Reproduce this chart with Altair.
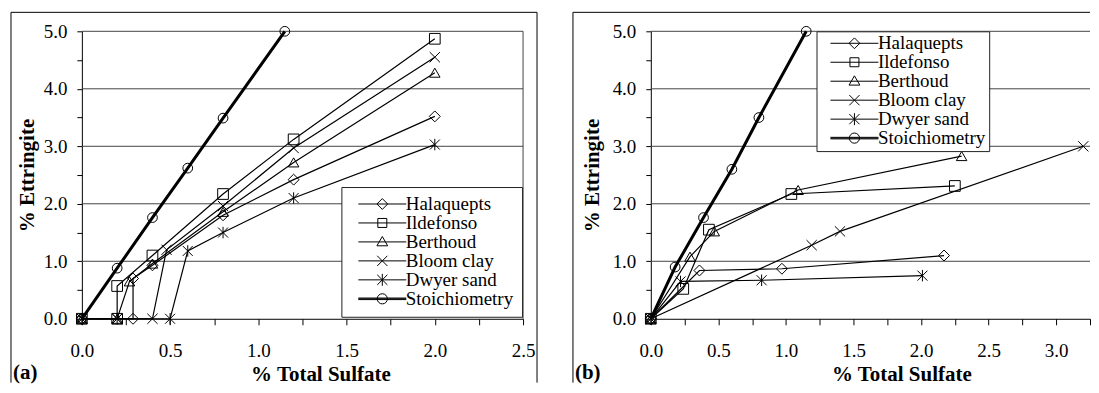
import altair as alt
import pandas as pd

FONT = "Liberation Serif, Times New Roman, Tinos, DejaVu Serif, serif"
SERIES = ["Halaquepts", "Ildefonso", "Berthoud", "Bloom clay", "Dwyer sand", "Stoichiometry"]

# ---------------- panel (a) ----------------
a_halaquepts_x = [0.0, 0.29, 0.29, 0.40, 0.80, 1.20, 2.00]
a_halaquepts_y = [0.0, 0.00, 0.70, 0.93, 1.80, 2.42, 3.52]
a_ildefonso_x = [0.0, 0.20, 0.20, 0.40, 0.80, 1.20, 2.00]
a_ildefonso_y = [0.0, 0.00, 0.57, 1.10, 2.17, 3.12, 4.87]
a_berthoud_x = [0.0, 0.20, 0.27, 0.40, 0.80, 1.20, 2.00]
a_berthoud_y = [0.0, 0.00, 0.65, 0.96, 1.86, 2.72, 4.28]
a_bloom_x = [0.0, 0.20, 0.40, 0.48, 0.80, 1.20, 2.00]
a_bloom_y = [0.0, 0.00, 0.00, 1.20, 1.96, 2.97, 4.55]
a_dwyer_x = [0.0, 0.20, 0.50, 0.60, 0.80, 1.20, 2.00]
a_dwyer_y = [0.0, 0.00, 0.00, 1.18, 1.50, 2.10, 3.03]
a_stoich_x = [0.0, 0.20, 0.40, 0.60, 0.80, 1.15]
a_stoich_y = [0.0, 0.88, 1.76, 2.62, 3.49, 5.00]

# ---------------- panel (b) ----------------
b_halaquepts_x = [0.0, 0.36, 0.97, 2.17]
b_halaquepts_y = [0.0, 0.84, 0.87, 1.10]
b_ildefonso_x = [0.0, 0.24, 0.43, 1.04, 2.25]
b_ildefonso_y = [0.0, 0.52, 1.55, 2.17, 2.31]
b_berthoud_x = [0.0, 0.29, 0.47, 1.09, 2.30]
b_berthoud_y = [0.0, 1.08, 1.52, 2.24, 2.83]
b_bloom_x = [0.0, 1.19, 1.40, 3.20]
b_bloom_y = [0.0, 1.28, 1.52, 3.00]
b_dwyer_x = [0.0, 0.22, 0.82, 2.01]
b_dwyer_y = [0.0, 0.65, 0.67, 0.75]
b_stoich_x = [0.0, 0.18, 0.39, 0.60, 0.80, 1.15]
b_stoich_y = [0.0, 0.90, 1.76, 2.60, 3.50, 5.00]

# axis ticks
Y_TICKS = [0.0, 0.5, 1.0, 1.5, 2.0, 2.5, 3.0, 3.5, 4.0, 4.5, 5.0]
GRID_Y = [1.0, 2.0, 3.0, 4.0, 5.0]
A_X_TICKS = [0.0, 0.25, 0.5, 0.75, 1.0, 1.25, 1.5, 1.75, 2.0, 2.25, 2.5]
B_X_TICKS = [0.0, 0.25, 0.5, 0.75, 1.0, 1.25, 1.5, 1.75, 2.0, 2.25, 2.5, 2.75, 3.0, 3.25]


def build(panel):
    rows = []
    for name, xs, ys in panel:
        for i, (x, y) in enumerate(zip(xs, ys)):
            rows.append({"series": name, "idx": i, "x": x, "y": y})
    return pd.DataFrame(rows)


df_a = build([
    ("Halaquepts", a_halaquepts_x, a_halaquepts_y),
    ("Ildefonso", a_ildefonso_x, a_ildefonso_y),
    ("Berthoud", a_berthoud_x, a_berthoud_y),
    ("Bloom clay", a_bloom_x, a_bloom_y),
    ("Dwyer sand", a_dwyer_x, a_dwyer_y),
    ("Stoichiometry", a_stoich_x, a_stoich_y),
])
df_b = build([
    ("Halaquepts", b_halaquepts_x, b_halaquepts_y),
    ("Ildefonso", b_ildefonso_x, b_ildefonso_y),
    ("Berthoud", b_berthoud_x, b_berthoud_y),
    ("Bloom clay", b_bloom_x, b_bloom_y),
    ("Dwyer sand", b_dwyer_x, b_dwyer_y),
    ("Stoichiometry", b_stoich_x, b_stoich_y),
])

X_PATH = "M-1,-1L1,1M-1,1L1,-1"
STAR_PATH = "M-1,-1L1,1M-1,1L1,-1M0,-1.15L0,1.15"
PLOT_SHAPES = ["diamond", "square", "triangle-up", X_PATH, STAR_PATH, "circle"]
PLOT_SIZES = [120, 95, 115, 120, 130, 155]

LN = "M-4,0L4,0"
THICK = "M-4,-0.13L4,-0.13M-4,0L4,0M-4,0.13L4,0.13"
LEG_SHAPES = [
    LN + "M0,-0.9L0.9,0L0,0.9L-0.9,0Z",
    LN + "M-0.75,-0.75L0.75,-0.75L0.75,0.75L-0.75,0.75Z",
    LN + "M0,-0.9L0.9,0.65L-0.9,0.65Z",
    LN + "M-0.85,-0.85L0.85,0.85M-0.85,0.85L0.85,-0.85",
    LN + "M-0.85,-0.85L0.85,0.85M-0.85,0.85L0.85,-0.85M0,-1L0,1",
    THICK + "M-0.85,0A0.85,0.85,0,1,0,0.85,0A0.85,0.85,0,1,0,-0.85,0Z",
]


def make_panel(df, xdom, xticks, width, leg_x, leg_y, leg_pad, sym_off, lab_off,
               frame_left, frame_right, label, ytitle_x, xtitle_x, right_border):
    height = 288
    xs = alt.Scale(domain=xdom, nice=False, zero=False)
    ys = alt.Scale(domain=[0, 5], nice=False)
    xaxis = alt.Axis(values=xticks, labelExpr="datum.value % 0.5 == 0 ? format(datum.value, '.1f') : ''",
                     title="%  Total Sulfate", titleX=xtitle_x, titleY=62, titleAlign="center",
                     titleBaseline="alphabetic", grid=False, labelFlush=False, labelOverlap=False,
                     tickSize=6, labelPadding=17)
    yaxis = alt.Axis(values=Y_TICKS, labelExpr="datum.value % 1 == 0 ? format(datum.value, '.1f') : ''",
                     title="% Ettringite", titleAngle=270, titleX=ytitle_x, titleY=144,
                     titleAlign="center", titleBaseline="alphabetic", grid=False,
                     labelOverlap=False, tickSize=5, labelPadding=10)

    grid = alt.Chart(pd.DataFrame({"g": GRID_Y})).mark_rule(color="#444", strokeWidth=1).encode(
        y=alt.Y("g:Q", scale=ys, axis=yaxis))

    lines = alt.Chart(df).mark_line(color="black").encode(
        x=alt.X("x:Q", scale=xs, axis=xaxis),
        y=alt.Y("y:Q", scale=ys, axis=yaxis),
        detail="series:N",
        order="idx:Q",
        strokeWidth=alt.condition(alt.datum.series == "Stoichiometry", alt.value(3), alt.value(1.2)),
    )
    points = alt.Chart(df).mark_point(filled=False, color="black", strokeWidth=1, opacity=1).encode(
        x=alt.X("x:Q", scale=xs, axis=xaxis),
        y=alt.Y("y:Q", scale=ys, axis=yaxis),
        shape=alt.Shape("series:N", scale=alt.Scale(domain=SERIES, range=PLOT_SHAPES), legend=None),
        size=alt.Size("series:N", scale=alt.Scale(domain=SERIES, range=PLOT_SIZES), legend=None),
    )
    legend_layer = alt.Chart(df).transform_filter("false").mark_point(
        filled=False, color="black", strokeWidth=1, opacity=1).encode(
        x=alt.X("x:Q", scale=xs, axis=xaxis),
        y=alt.Y("y:Q", scale=ys, axis=yaxis),
        shape=alt.Shape("series:N", scale=alt.Scale(domain=SERIES, range=LEG_SHAPES),
                        legend=alt.Legend(title=None, orient="none", legendX=leg_x, legendY=leg_y,
                                          labelFont=FONT, labelFontSize=19, labelColor="black",
                                          symbolSize=144, symbolStrokeColor="black", symbolStrokeWidth=1,
                                          symbolOffset=sym_off, labelOffset=lab_off, padding=leg_pad,
                                          fillColor="white", strokeColor="#222", rowPadding=0,
                                          clipHeight=18, labelLimit=300)),
    )

    fdf = pd.DataFrame({"k": [0]})
    frame = alt.Chart(fdf).mark_rule(color="black", strokeWidth=1)
    parts = [grid]
    if right_border is not None:
        parts.append(alt.Chart(pd.DataFrame({"b": [right_border]})).mark_rule(color="#444", strokeWidth=1).encode(
            x=alt.X("b:Q", scale=xs, axis=xaxis)))
    parts += [lines, points, legend_layer,
              frame.encode(x=alt.value(frame_left), y=alt.value(-19), y2=alt.value(352)),
              frame.encode(x=alt.value(frame_left), x2=alt.value(frame_right), y=alt.value(-19))]
    if right_border is not None:
        parts.append(frame.encode(x=alt.value(frame_right), y=alt.value(-19), y2=alt.value(352)))
    parts.append(alt.Chart(fdf).mark_text(text=label, align="left", baseline="alphabetic", font=FONT,
                                          fontSize=21, fontWeight="bold", color="black").encode(
        x=alt.value(frame_left + 2), y=alt.value(348)))
    return alt.layer(*parts).resolve_scale(shape="independent", size="independent").properties(
        width=width, height=height)


left = make_panel(df_a, [0, 2.5], A_X_TICKS, 442, 260, 156, 8, 23.5, 14,
                  -71, 456, "(a)", -48, 239, 2.5)
right = make_panel(df_b, [0, 3.25], B_X_TICKS, 440, 166, 0, 3, 25.5, 14,
                   -78, 440, "(b)", -52, 251, None)

chart = alt.hconcat(left, right, spacing=34).resolve_scale(shape="independent", size="independent").properties(
    padding={"left": 2, "top": 3, "right": 0, "bottom": 0}, background="white"
).configure_view(strokeWidth=0).configure_axis(
    labelFont=FONT, labelFontSize=19, labelColor="black", titleFont=FONT, titleFontSize=21,
    titleFontWeight="bold", titleColor="black", domainColor="black", tickColor="black",
    domainWidth=1, tickWidth=1)

chart.save("out.html", embed_options={"renderer": "svg", "actions": False})
